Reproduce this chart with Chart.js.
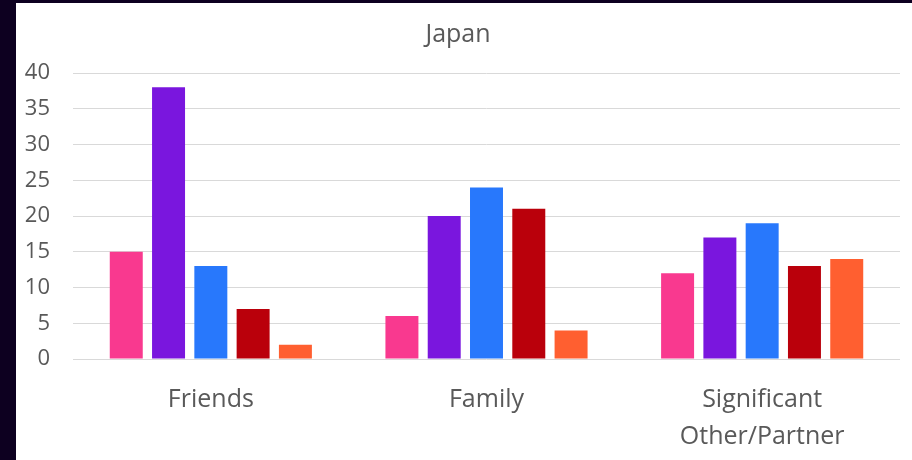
<!DOCTYPE html>
<html>
<head>
<meta charset="utf-8">
<script src="https://cdn.jsdelivr.net/npm/chart.js@4/dist/chart.umd.min.js"></script>
<style>
  html, body { margin: 0; padding: 0; background: #0D0020; width: 912px; height: 460px; overflow: hidden; }
  #wrap { position: absolute; left: 16px; top: 3px; width: 896px; height: 457px; background: #ffffff; }
</style>
</head>
<body>
<div id="wrap"><canvas id="c" width="896" height="457"></canvas></div>
<script>
const categories = ['Friends', 'Family', ['Significant', 'Other/Partner']];
const seriesA = [15, 6, 12];
const seriesB = [38, 20, 17];
const seriesC = [13, 24, 19];
const seriesD = [7, 21, 13];
const seriesE = [2, 4, 14];
const colors = ['#F9398F', '#7A16DE', '#2878FC', '#BA000B', '#FF5F30'];
const yTicks = [0, 5, 10, 15, 20, 25, 30, 35, 40];

const series = [seriesA, seriesB, seriesC, seriesD, seriesE];
const FONT = "'Open Sans', 'Noto Sans', sans-serif";

new Chart(document.getElementById('c'), {
  type: 'bar',
  data: {
    labels: categories,
    datasets: series.map((d, i) => ({
      label: 'S' + (i + 1),
      data: d,
      backgroundColor: colors[i],
      borderWidth: 0,
      categoryPercentage: 0.767,
      barPercentage: 0.78
    }))
  },
  options: {
    responsive: false,
    animation: false,
    devicePixelRatio: 1,
    layout: { padding: { left: 0, right: 12, top: 0, bottom: 0 } },
    plugins: {
      legend: { display: false },
      tooltip: { enabled: false },
      title: {
        display: true,
        text: 'Japan',
        color: '#595959',
        font: { family: FONT, size: 25, weight: 'normal', lineHeight: 1.2 },
        padding: { top: 17, bottom: 23 }
      }
    },
    scales: {
      x: {
        grid: { display: false, drawTicks: false },
        border: { display: false },
        afterFit: (axis) => { axis.height = 101; },
        ticks: {
          color: '#595959',
          font: { family: FONT, size: 25, lineHeight: 1.48 },
          padding: 22,
          maxRotation: 0,
          autoSkip: false
        }
      },
      y: {
        min: 0,
        max: 40,
        afterBuildTicks: (axis) => { axis.ticks = yTicks.map(v => ({ value: v })); },
        afterFit: (axis) => { axis.width = 57; },
        grid: { color: '#d9d9d9', lineWidth: 1, drawTicks: false },
        border: { display: false },
        ticks: {
          color: '#595959',
          font: { family: FONT, size: 22 },
          padding: 23
        }
      }
    }
  }
});
</script>
</body>
</html>
